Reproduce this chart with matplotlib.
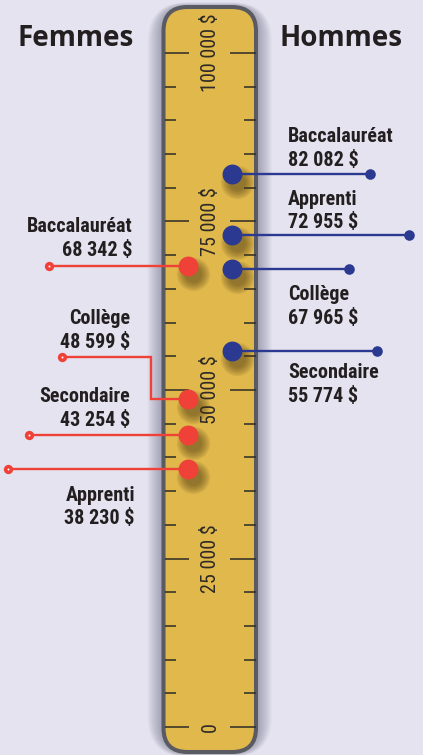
import matplotlib
matplotlib.use("Agg")
import matplotlib.pyplot as plt
import matplotlib.font_manager as fm
from matplotlib.patches import FancyBboxPatch
from matplotlib import transforms

# ---------------- data ----------------
women_labels = ["Baccalauréat", "Collège", "Secondaire", "Apprenti"]
women_values = [68342, 48599, 43254, 38230]
men_labels = ["Baccalauréat", "Apprenti", "Collège", "Secondaire"]
men_values = [82082, 72955, 67965, 55774]
tick_values = list(range(0, 105000, 5000))
tick_label_values = [0, 25000, 50000, 75000, 100000]

def fmt(v):
    s = f"{v:,}".replace(",", " ")
    return s if v == 0 else s + " $"

# ---------------- fonts ----------------
names = {f.name for f in fm.fontManager.ttflist}
narrow = None
for cand in ["Liberation Sans Narrow", "Roboto Condensed", "Open Sans Condensed", "DejaVu Sans Condensed"]:
    if cand in names:
        narrow = cand
        break
if narrow is None:
    narrow = "DejaVu Sans"
    narrow_stretch = "condensed"
else:
    narrow_stretch = "normal"
head_font = "Open Sans" if "Open Sans" in names else "DejaVu Sans"

# ---------------- colours ----------------
BG = "#e4e3ef"
RULER = "#e0b84c"
RULER_EDGE = "#5a5a62"
RED = "#ef4137"
BLUE = "#2b3990"
TXT = "#231f20"

W, H = 423, 755
fig = plt.figure(figsize=(W / 100, H / 100), dpi=100, facecolor=BG)

# background/pixel axes
bg = fig.add_axes([0, 0, 1, 1])
bg.set_xlim(0, W)
bg.set_ylim(H, 0)
bg.axis("off")
bg.set_facecolor(BG)

# ruler shadow
x0, x1, y0, y1 = 163.5, 256.0, 7.0, 752.0
for i in range(16, 0, -1):
    sh = FancyBboxPatch((x0 - i, y0 - i * 0.3), (x1 - x0) + 2 * i, (y1 - y0) + i * 0.6,
                        boxstyle=f"round,pad=0,rounding_size={24 + i}",
                        facecolor="#4a4a6a", edgecolor="none", alpha=0.03, zorder=1)
    bg.add_patch(sh)
ruler = FancyBboxPatch((x0, y0), x1 - x0, y1 - y0,
                       boxstyle="round,pad=0,rounding_size=24",
                       facecolor=RULER, edgecolor=RULER_EDGE, linewidth=2.9, zorder=2)
bg.add_patch(ruler)

# data axes (value scale)
px_per_unit = 674.0 / 100000.0
zero_px = 727.0
ymin = -(H - zero_px) / px_per_unit
ymax = zero_px / px_per_unit
ax = fig.add_axes([0, 0, 1, 1])
ax.set_xlim(0, W)
ax.set_ylim(ymin, ymax)
ax.axis("off")
ax.patch.set_alpha(0)

# ticks
for v in tick_values:
    major = v % 25000 == 0
    ax.hlines(v, 164.5, 189 if major else 176, color="#2e2a26", lw=1.1, zorder=3)
    ax.hlines(v, 230 if major else 243.5, 255.5, color="#2e2a26", lw=1.1, zorder=3)
for v in tick_label_values:
    ax.text(210.5, v, fmt(v), rotation=90, ha="center", va="center",
            fontsize=14.5, family=narrow, fontstretch=narrow_stretch,
            color="#2e2a26", zorder=3)

# layout constants (pixel x positions)
XW, XM = 188, 232
women_end_x = [49, 62, 29, 8]
women_elbow = [None, (151, 54900), None, None]
men_end_x = [370, 409, 349, 377]

lw = 1.7
for v, ex, elb in zip(women_values, women_end_x, women_elbow):
    if elb is None:
        ax.plot([XW, ex], [v, v], color=RED, lw=lw, zorder=4, solid_capstyle="butt")
        ey = v
    else:
        ax.plot([XW, elb[0], elb[0], ex], [v, v, elb[1], elb[1]], color=RED, lw=lw,
                zorder=4, solid_joinstyle="miter")
        ey = elb[1]
    ax.scatter([ex], [ey], s=45, color=RED, zorder=5, linewidths=0)
    ax.scatter([ex], [ey], s=2, color="white", zorder=6, linewidths=0)

for v, ex in zip(men_values, men_end_x):
    ax.plot([XM, ex], [v, v], color=BLUE, lw=lw, zorder=4)
    ax.scatter([ex], [v], s=58, color=BLUE, zorder=5, linewidths=0)

# dot shadows (soft, offset down-right)
off = transforms.offset_copy(ax.transData, fig=fig, x=5, y=-8, units="dots")
for dx, vals in [(XW, women_values), (XM, men_values)]:
    for k in range(7):
        ax.scatter([dx] * len(vals), vals, s=(12 + k * 2.0) ** 2, color="#4a3510",
                   alpha=0.09, linewidths=0, zorder=3.5, transform=off)

ax.scatter([XW] * len(women_values), women_values, s=205, color=RED, zorder=6, linewidths=0)
ax.scatter([XM] * len(men_values), men_values, s=205, color=BLUE, zorder=6, linewidths=0)

# labels (pixel coords)
women_lab_pos = [(133, 232), (130, 324), (130, 402), (135, 501)]
men_lab_pos = [(288, 142), (288, 205), (288, 300), (288, 378)]
lab_kw = dict(fontsize=14.5, family=narrow, fontstretch=narrow_stretch,
              fontweight="bold", color=TXT, va="baseline", zorder=7)
for name, v, (x, y) in zip(women_labels, women_values, women_lab_pos):
    bg.text(x, y, name, ha="right", **lab_kw)
    bg.text(x, y + 23.5, fmt(v), ha="right", **lab_kw)
for name, v, (x, y) in zip(men_labels, men_values, men_lab_pos):
    bg.text(x, y, name, ha="left", **lab_kw)
    bg.text(x, y + 23.5, fmt(v), ha="left", **lab_kw)

bg.text(75.5, 46, "Femmes", ha="center", va="baseline", fontsize=20,
        family=head_font, fontweight="bold", color=TXT)
bg.text(341, 46, "Hommes", ha="center", va="baseline", fontsize=20,
        family=head_font, fontweight="bold", color=TXT)

fig.savefig("out.png", dpi=100, facecolor=BG)
